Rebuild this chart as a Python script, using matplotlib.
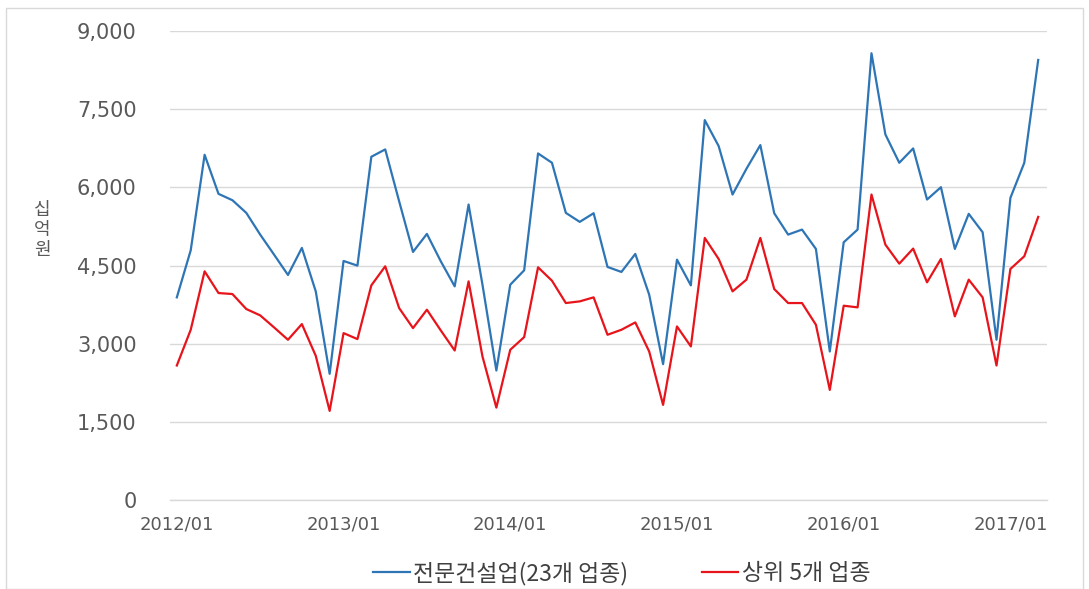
import numpy as np
import matplotlib.pyplot as plt
from matplotlib.patches import Rectangle

plt.rcParams['font.family'] = ['Noto Sans CJK KR', 'DejaVu Sans']

# monthly values, 2012/01 - 2017/03 (십억원)
specialty = [3891, 4795, 6628, 5878, 5756, 5513, 5096, 4711, 4321, 4840, 4006, 2423,
             4590, 4500, 6590, 6731, 5737, 4763, 5109, 4583, 4102, 5673, 4134, 2487,
             4134, 4410, 6654, 6475, 5513, 5340, 5506, 4475, 4379, 4725, 3942, 2609,
             4615, 4121, 7294, 6795, 5865, 6359, 6814, 5506, 5096, 5192, 4821, 2852,
             4948, 5192, 8577, 7019, 6475, 6750, 5769, 6006, 4821, 5494, 5141, 3077,
             5801, 6475, 8448]
top5 = [2583, 3269, 4391, 3974, 3955, 3667, 3545, 3314, 3077, 3378, 2769, 1711,
        3205, 3090, 4121, 4487, 3686, 3301, 3654, 3256, 2871, 4198, 2756, 1775,
        2885, 3128, 4468, 4211, 3782, 3814, 3891, 3173, 3269, 3410, 2852, 1827,
        3333, 2949, 5032, 4628, 4006, 4231, 5032, 4051, 3782, 3782, 3365, 2115,
        3731, 3699, 5865, 4904, 4538, 4827, 4180, 4628, 3526, 4231, 3891, 2583,
        4436, 4680, 5436]
tick_pos = [0, 12, 24, 36, 48, 60]
tick_labels = ["2012/01", "2013/01", "2014/01", "2015/01", "2016/01", "2017/01"]
yticks = [0, 1500, 3000, 4500, 6000, 7500, 9000]
series_names = ["전문건설업(23개 업종)", "상위 5개 업종"]
unit_chars = ["십", "억", "원"]

fig = plt.figure(figsize=(10.89, 5.89), dpi=100)
ax = fig.add_axes([0.156, 0.151, 0.805, 0.796])

x = np.arange(len(specialty))
ax.plot(x, specialty, color='#2E75B6', lw=1.6, label=series_names[0])
ax.plot(x, top5, color='#E8141B', lw=1.6, label=series_names[1])

ax.set_xlim(-0.5, 62.6)
ax.set_ylim(0, 9000)
ax.set_yticks(yticks)
ax.set_yticklabels([f"{v:,}" for v in yticks], family='DejaVu Sans', fontsize=15, color='#595959')
ax.set_xticks(tick_pos)
ax.set_xticklabels(tick_labels, family='DejaVu Sans', fontsize=13, color='#595959')
ax.tick_params(axis='y', length=0, pad=24)
ax.tick_params(axis='x', length=0, pad=11)
ax.grid(axis='y', color='#D9D9D9', lw=1)
ax.axhline(0, color='#D9D9D9', lw=1, clip_on=False, zorder=0)
ax.set_axisbelow(True)
for s in ax.spines.values():
    s.set_visible(False)

# vertical unit label, one upright character per line
for i, ch in enumerate(unit_chars):
    fig.text(0.039, 1 - (210 + i * 20) / 589, ch, fontsize=13, color='#595959',
             ha='center', va='center')

fig.legend(loc='center', bbox_to_anchor=(0.571, 0.027), ncol=2, frameon=False,
           fontsize=16.5, handlelength=1.6, handletextpad=0.15, columnspacing=3.2,
           labelcolor='#404040')

fig.patches.append(Rectangle((6 / 1089, 0), 1077 / 1089, 1 - 8 / 589, transform=fig.transFigure,
                             fill=False, edgecolor='#D9D9D9', lw=1))

fig.savefig("out.png", dpi=100)
